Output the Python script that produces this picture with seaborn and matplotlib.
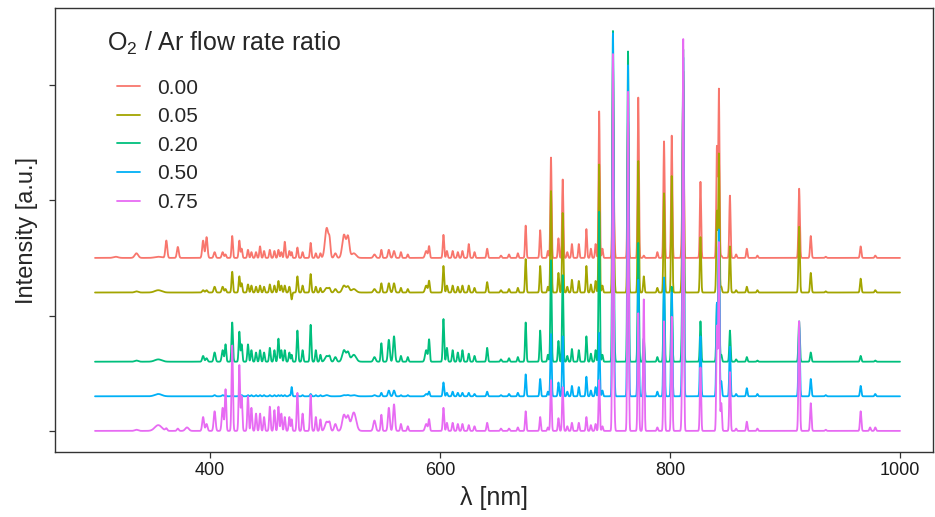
import numpy as np
import pandas as pd
import matplotlib
matplotlib.use("Agg")
import matplotlib.pyplot as plt
import seaborn as sns

# ---------------- data ----------------
RATIOS = ["0.00", "0.05", "0.20", "0.50", "0.75"]
OFFSETS = [1.5, 1.2, 0.6, 0.3, 0.0]          # vertical offset of each spectrum
COLORS = ["#F8766D", "#A3A500", "#00BF7D", "#00B0F6", "#E76BF3"]

# emission line centres (nm) and their widths (sigma, nm)
LINE_NM = [318, 336, 355, 362, 372, 380, 394, 397, 404, 411, 413.5, 419.3, 425.5, 427.5,
           433, 436, 440, 443.5, 447, 452, 456, 459.5, 462, 465, 469, 471, 476, 480.5,
           487.5, 492, 496, 501.5, 504, 509, 516.5, 520, 525, 543, 549, 555.5, 560, 566,
           572, 588, 590.5, 603, 606, 611, 615.5, 619.5, 625, 630, 641, 653, 660,
           667.7, 674.5, 687.1, 693.8, 696.5, 703.0, 706.7, 710.7, 714.7, 720.7, 727.3,
           731.2, 735.3, 738.4, 741.2, 750.4, 751.5, 763.5, 772.4, 777.2, 789.0, 794.8,
           801.5, 810.4, 811.5, 826.5, 840.8, 842.5, 844.6, 852.1, 857.5, 866.8, 876.0,
           912.3, 922.4, 935.4, 965.8, 974.0, 978.5]
LINE_W = [2.0, 1.5, 3.0, 0.8, 0.8, 1.5, 0.8, 0.8, 0.8, 0.8, 0.6, 0.6, 0.6, 0.6,
          0.6, 0.6, 0.6, 0.6, 0.6, 0.6, 0.6, 0.6, 0.6, 0.6, 0.6, 0.5, 0.6, 0.6,
          0.6, 0.6, 0.6, 1.5, 0.8, 1.0, 1.5, 1.2, 2.0, 1.0, 0.6, 0.8, 0.8, 0.6,
          0.6, 1.0, 0.6, 0.6, 0.6, 0.6, 0.6, 0.6, 0.6, 0.6, 0.6, 0.6, 0.6,
          0.55, 0.55, 0.55, 0.55, 0.55, 0.55, 0.55, 0.55, 0.55, 0.55, 0.55,
          0.55, 0.55, 0.55, 0.55, 0.55, 0.5, 0.55, 0.55, 0.55, 0.55, 0.55,
          0.55, 0.5, 0.55, 0.55, 0.55, 0.55, 0.55, 0.55, 0.55, 0.55, 0.55,
          0.6, 0.6, 0.6, 0.6, 0.6, 0.6]

# peak heights for each O2/Ar ratio (a.u.)
H_000 = [0.01, 0.04, 0.01, 0.15, 0.095, 0.0, 0.15, 0.18, 0.05, 0.05, 0.03, 0.19, 0.15, 0.08,
         0.07, 0.05, 0.05, 0.10, 0.06, 0.07, 0.06, 0.07, 0.05, 0.14, 0.06, 0.05, 0.09, 0.05,
         0.13, 0.04, 0.04, 0.26, 0.12, 0.04, 0.20, 0.18, 0.04, 0.03, 0.07, 0.07, 0.06, 0.05,
         0.03, 0.06, 0.10, 0.20, 0.06, 0.06, 0.05, 0.06, 0.12, 0.05, 0.08, 0.02, 0.03,
         0.04, 0.28, 0.24, 0.06, 0.87, 0.17, 0.68, 0.05, 0.12, 0.12, 0.25,
         0.08, 0.12, 1.27, 0.08, 1.30, 0.20, 1.20, 1.39, 0.02, 0.05, 1.01,
         1.06, 0.20, 1.52, 0.66, 0.96, 1.46, 0.02, 0.54, 0.03, 0.08, 0.02,
         0.60, 0.19, 0.01, 0.10, 0.00, 0.02]
H_005 = [0.0, 0.01, 0.02, 0.0, 0.0, 0.0, 0.02, 0.02, 0.05, 0.05, 0.03, 0.18, 0.14, 0.08,
         0.07, 0.06, 0.05, 0.06, 0.05, 0.07, 0.06, 0.10, 0.06, 0.06, 0.05, -0.06, 0.14, 0.06,
         0.16, 0.05, 0.04, 0.04, 0.03, 0.03, 0.06, 0.05, 0.03, 0.03, 0.08, 0.08, 0.08, 0.04,
         0.03, 0.06, 0.10, 0.23, 0.06, 0.06, 0.05, 0.06, 0.06, 0.04, 0.09, 0.02, 0.03,
         0.04, 0.29, 0.23, 0.05, 0.88, 0.17, 0.69, 0.05, 0.11, 0.10, 0.23,
         0.07, 0.10, 1.11, 0.06, 1.96, 0.20, 1.50, 1.14, 0.14, 0.04, 0.86,
         1.01, 0.20, 1.90, 0.48, 0.70, 1.20, 0.05, 0.40, 0.02, 0.05, 0.02,
         0.57, 0.17, 0.01, 0.12, 0.00, 0.02]
H_020 = [0.0, 0.01, 0.02, 0.0, 0.0, 0.0, 0.05, 0.03, 0.08, 0.10, 0.15, 0.34, 0.26, 0.15,
         0.15, 0.10, 0.08, 0.10, 0.08, 0.12, 0.10, 0.20, 0.10, 0.10, 0.08, 0.06, 0.27, 0.10,
         0.32, 0.10, 0.06, 0.05, 0.04, 0.04, 0.10, 0.08, 0.06, 0.04, 0.16, 0.19, 0.22, 0.05,
         0.04, 0.10, 0.19, 0.37, 0.12, 0.10, 0.08, 0.10, 0.07, 0.05, 0.12, 0.02, 0.03,
         0.04, 0.34, 0.27, 0.06, 0.88, 0.18, 0.75, 0.05, 0.11, 0.10, 0.22,
         0.07, 0.10, 1.30, 0.06, 2.85, 0.20, 2.69, 1.03, 0.20, 0.04, 0.72,
         0.65, 0.20, 2.69, 0.35, 0.50, 1.00, 0.06, 0.27, 0.02, 0.04, 0.01,
         0.35, 0.08, 0.00, 0.05, 0.00, 0.01]
H_050 = [0.0, 0.0, 0.02, 0.0, 0.0, 0.0, 0.0, 0.0, 0.01, 0.01, 0.01, 0.01, 0.01, 0.01,
         0.01, 0.01, 0.01, 0.01, 0.01, 0.01, 0.01, 0.01, 0.01, 0.01, 0.01, 0.08, 0.01, 0.01,
         0.02, 0.01, 0.01, 0.01, 0.0, 0.0, 0.01, 0.01, 0.01, 0.01, 0.03, 0.05, 0.05, 0.01,
         0.01, 0.02, 0.04, 0.12, 0.03, 0.04, 0.03, 0.03, 0.03, 0.02, 0.04, 0.01, 0.02,
         0.03, 0.19, 0.15, 0.04, 0.54, 0.12, 0.52, 0.04, 0.09, 0.08, 0.17,
         0.05, 0.08, 0.55, 0.05, 3.13, 0.20, 2.87, 1.01, 0.50, 0.04, 1.03,
         0.90, 0.20, 2.92, 0.52, 0.80, 1.44, 0.13, 0.43, 0.02, 0.07, 0.02,
         0.60, 0.15, 0.01, 0.09, 0.00, 0.02]
H_075 = [0.0, 0.01, 0.05, 0.02, 0.02, 0.03, 0.12, 0.06, 0.17, 0.20, 0.36, 0.74, 0.57, 0.30,
         0.30, 0.20, 0.15, 0.15, 0.12, 0.21, 0.18, 0.21, 0.15, 0.12, 0.12, 0.10, 0.33, 0.15,
         0.31, 0.12, 0.10, 0.08, 0.06, 0.06, 0.14, 0.12, 0.16, 0.09, 0.14, 0.20, 0.23, 0.06,
         0.04, 0.06, 0.10, 0.20, 0.07, 0.07, 0.06, 0.06, 0.05, 0.04, 0.07, 0.02, 0.02,
         0.03, 0.17, 0.12, 0.03, 0.44, 0.11, 0.38, 0.04, 0.07, 0.07, 0.12,
         0.05, 0.06, 0.44, 0.04, 3.25, 0.20, 2.94, 1.02, 1.14, 0.03, 0.95,
         0.99, 0.20, 3.38, 0.55, 0.90, 1.63, 0.24, 0.51, 0.02, 0.08, 0.02,
         0.95, 0.24, 0.01, 0.17, 0.03, 0.03]
HEIGHTS = [H_000, H_005, H_020, H_050, H_075]

X_TICKS = [400, 600, 800, 1000]
Y_TICKS = [0, 1, 2, 3]

# ---------------- build spectra ----------------
wl = np.arange(300.0, 1000.0001, 0.1)
centres = np.array(LINE_NM)[:, None]
widths = np.array(LINE_W)[:, None]
profiles = np.exp(-0.5 * ((wl[None, :] - centres) / widths) ** 2)

frames = []
for ratio, off, h in zip(RATIOS, OFFSETS, HEIGHTS):
    spec = off + np.array(h) @ profiles
    frames.append(pd.DataFrame({"wl": wl, "I": spec, "ratio": ratio}))
df = pd.concat(frames, ignore_index=True)

# ---------------- plot ----------------
sns.set_theme(style="white")
plt.rcParams["font.family"] = ["Liberation Sans", "DejaVu Sans"]
plt.rcParams["mathtext.fontset"] = "custom"
plt.rcParams["mathtext.rm"] = "Liberation Sans"
plt.rcParams["mathtext.it"] = "Liberation Sans:italic"

W, H = 935, 517
fig = plt.figure(figsize=(W / 100, H / 100), dpi=100)
L, R, T, B = 55, 933, 8, 452
ax = fig.add_axes([L / W, 1 - B / H, (R - L) / W, (B - T) / H])

sns.lineplot(data=df, x="wl", y="I", hue="ratio", hue_order=RATIOS,
             palette=COLORS, estimator=None, sort=False, lw=1.3, ax=ax, legend=True)

ax.set_xlim(265.2, 1028.7)
ax.set_ylim(-0.183, 3.667)
ax.set_xticks(X_TICKS)
ax.set_xticklabels([str(t) for t in X_TICKS], fontsize=13, color="#1a1a1a")
ax.set_yticks(Y_TICKS)
ax.set_yticklabels([])
ax.tick_params(axis="both", direction="out", length=4, width=0.9, color="#333333",
               bottom=True, left=True, pad=3)
for s in ax.spines.values():
    s.set_color("#333333")
    s.set_linewidth(1.0)
ax.grid(False)

ax.set_xlabel("λ [nm]", fontsize=18)
ax.set_ylabel("Intensity [a.u.]", fontsize=17)
ax.xaxis.set_label_coords(0.5, -(498 - B) / (B - T))
ax.yaxis.set_label_coords(-(L - 27) / (R - L), 0.5)
ax.xaxis.label.set_va("center")
ax.yaxis.label.set_va("center")

# legend
handles, labels = ax.get_legend_handles_labels()
ax.legend(handles, labels, loc="upper left", frameon=False,
          bbox_to_anchor=((117 - L) / (R - L), (B - 78.5) / (B - T)),
          borderaxespad=0, borderpad=0, fontsize=15, handlelength=1.1,
          handletextpad=0.82, labelspacing=0.46)
ax.text((107 - L) / (R - L), (B - 43) / (B - T), r"O$_2$ / Ar flow rate ratio",
        transform=ax.transAxes, fontsize=18, ha="left", va="center")

fig.savefig("out.png", dpi=100)
